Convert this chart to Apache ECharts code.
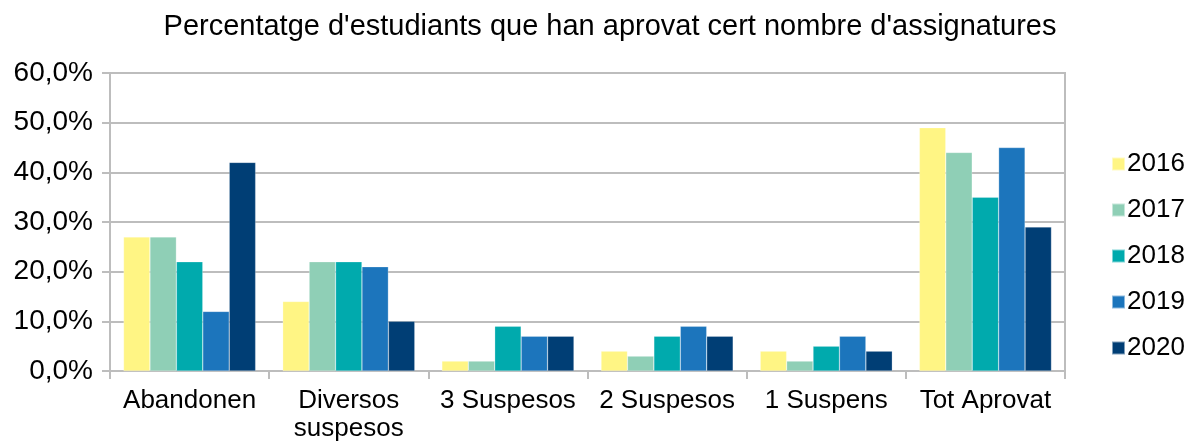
<!DOCTYPE html>
<html>
<head>
<meta charset="utf-8">
<script src="https://cdn.jsdelivr.net/npm/echarts@6/dist/echarts.min.js"></script>
<style>
  html, body { margin: 0; padding: 0; background: #fff; }
  #chart { width: 1196px; height: 443px; }
</style>
</head>
<body>
<div id="chart"></div>
<script>
const categories = ['Abandonen', 'Diversos\nsuspesos', '3 Suspesos', '2 Suspesos', '1 Suspens', 'Tot Aprovat'];
const years = ['2016', '2017', '2018', '2019', '2020'];
const colors = ['#FFF584', '#8FCFB6', '#00AAAD', '#1C75BC', '#003E75'];
const values2016 = [27, 14, 2, 4, 4, 49];
const values2017 = [27, 22, 2, 3, 2, 44];
const values2018 = [22, 22, 9, 7, 5, 35];
const values2019 = [12, 21, 7, 9, 7, 45];
const values2020 = [42, 10, 7, 7, 4, 29];
const allValues = [values2016, values2017, values2018, values2019, values2020];

const chart = echarts.init(document.getElementById('chart'));
const font = '"Liberation Sans", Arial, sans-serif';
const lineColor = '#BDBDBD';

const option = {
    textStyle: { fontFamily: font },
    title: {
        text: "Percentatge d'estudiants que han aprovat cert nombre d'assignatures",
        left: 605,
        textAlign: 'center',
        top: 7,
        textStyle: { fontFamily: font, fontSize: 29, fontWeight: 'normal', color: '#000' }
    },
    legend: {
        orient: 'vertical',
        left: 1106,
        top: 146,
        itemWidth: 13,
        itemHeight: 13,
        itemGap: 20,
        icon: 'rect',
        textStyle: { fontFamily: font, fontSize: 26, color: '#000', padding: [0, 0, 0, -3] },
        data: years
    },
    grid: {
        left: 110,
        right: 131,
        top: 73,
        bottom: 72,
        show: true,
        borderColor: lineColor,
        borderWidth: 2
    },
    xAxis: {
        type: 'category',
        data: categories,
        axisLine: { lineStyle: { color: lineColor, width: 2 } },
        axisTick: { show: true, length: 8, lineStyle: { color: lineColor, width: 2 } },
        axisLabel: { fontFamily: font, fontSize: 26, color: '#000', margin: 16, lineHeight: 28, interval: 0 }
    },
    yAxis: {
        type: 'value',
        min: 0,
        max: 60,
        interval: 10,
        axisLine: { show: true, lineStyle: { color: lineColor, width: 2 } },
        axisTick: { show: true, length: 8, lineStyle: { color: lineColor, width: 2 } },
        splitLine: { lineStyle: { color: lineColor, width: 2 } },
        axisLabel: {
            fontFamily: font, fontSize: 28, color: '#000', margin: 17,
            formatter: v => v.toFixed(1).replace('.', ',') + '%'
        }
    },
    series: years.map((y, i) => ({
        name: y,
        type: 'bar',
        data: allValues[i],
        barGap: '0%',
        barCategoryGap: '17%',
        itemStyle: { color: colors[i], borderColor: 'rgba(255,255,255,0.5)', borderWidth: 0.5 }
    }))
};
chart.setOption(option);
</script>
</body>
</html>
